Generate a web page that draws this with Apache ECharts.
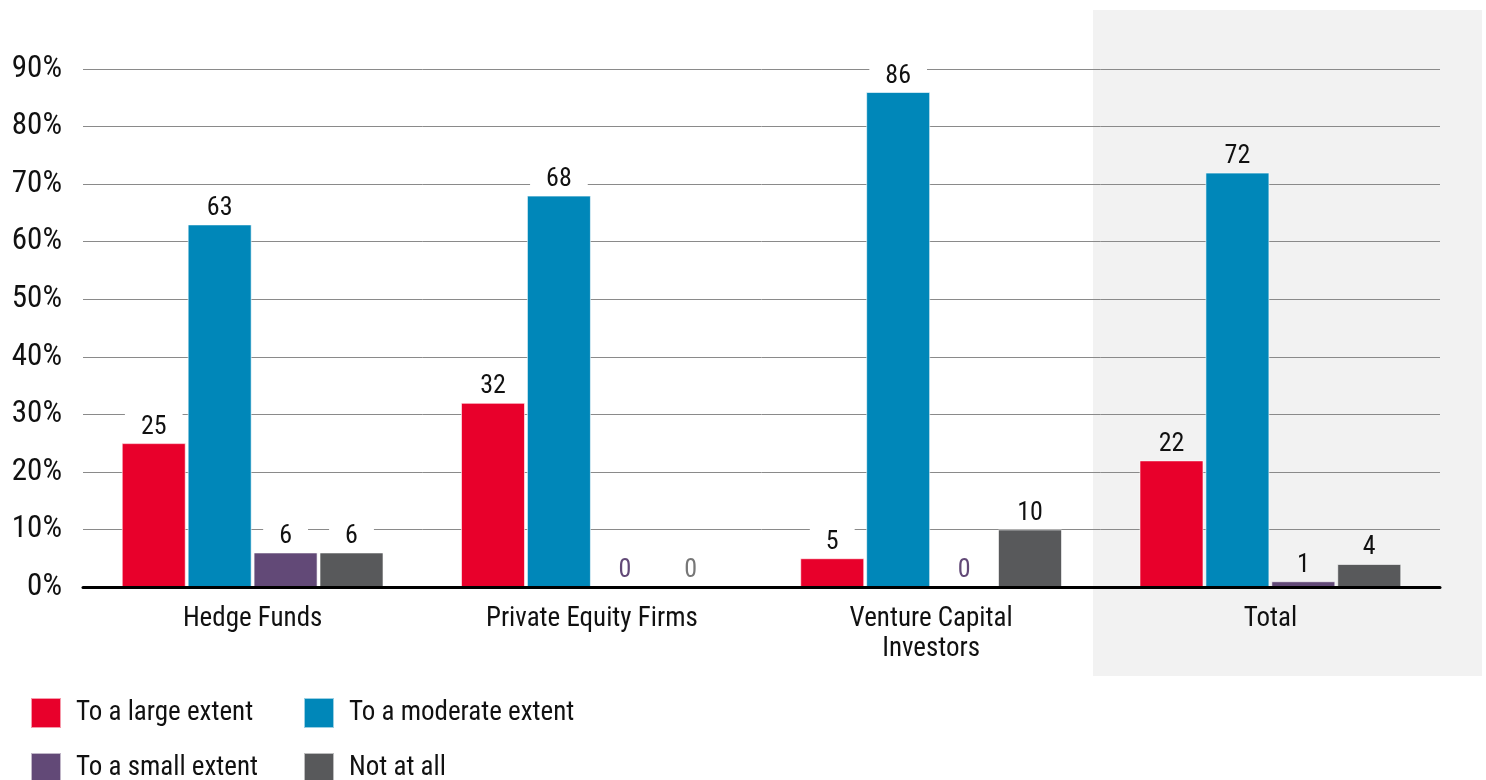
<!DOCTYPE html>
<html>
<head>
<meta charset="utf-8">
<script src="https://cdn.jsdelivr.net/npm/echarts@6/dist/echarts.min.js"></script>
<style>html,body{margin:0;padding:0;background:#fff}#c{width:1486px;height:780px}</style>
</head>
<body>
<div id="c"></div>
<script>
const categories = ['Hedge Funds', 'Private Equity Firms', 'Venture Capital\nInvestors', 'Total'];
const seriesNames = ['To a large extent', 'To a moderate extent', 'To a small extent', 'Not at all'];
const largeExtent = [25, 32, 5, 22];
const moderateExtent = [63, 68, 86, 72];
const smallExtent = [6, 0, 0, 1];
const notAtAll = [6, 0, 10, 4];
const yTicks = [0, 10, 20, 30, 40, 50, 60, 70, 80, 90];

const colors = ['#e8002b', '#0087b9', '#624977', '#58595b'];
const zeroColors = ['#e8002b', '#0087b9', '#624977', '#777777'];
const FONT = '"Roboto Condensed", "Liberation Sans Narrow", "DejaVu Sans Condensed", Roboto, sans-serif';

const chart = echarts.init(document.getElementById('c'));

function mk(name, vals, idx) {
  return {
    name: name,
    type: 'bar',
    barWidth: 64,
    barGap: '3%',
    itemStyle: { color: colors[idx], borderColor: 'rgba(255,255,255,0.6)', borderWidth: 1 },
    data: vals.map((v, i) => ({
      value: v,
      label: {
        color: v === 0 ? zeroColors[idx] : '#111',
        backgroundColor: i === 3 ? '#f2f2f2' : '#ffffff'
      }
    })),
    label: {
      show: true,
      position: 'top',
      distance: 1,
      fontFamily: FONT,
      fontSize: 26,
      padding: [2, 16],
      color: '#111'
    },
    z: 3
  };
}

function legendItem(name, left, top) {
  return {
    data: [name],
    left: left, top: top, padding: 0,
    itemWidth: 30, itemHeight: 30,
    icon: 'rect',
    textStyle: { fontFamily: FONT, fontSize: 27, color: '#111', padding: [0, 0, 0, 10] }
  };
}

const option = {
  animation: false,
  backgroundColor: '#ffffff',
  textStyle: { fontFamily: FONT },
  graphic: [{
    type: 'rect',
    shape: { x: 1093, y: 10, width: 389, height: 666 },
    style: { fill: '#f2f2f2' },
    z: -10, silent: true
  }],
  grid: { left: 83, right: 46, top: 69, bottom: 193, containLabel: false },
  legend: [
    legendItem(seriesNames[0], 30, 697),
    legendItem(seriesNames[1], 303, 697),
    legendItem(seriesNames[2], 30, 752),
    legendItem(seriesNames[3], 303, 752)
  ],
  xAxis: {
    type: 'category',
    data: categories,
    axisLine: { show: true, lineStyle: { color: '#000', width: 3 } },
    axisTick: { show: false },
    axisLabel: { fontFamily: FONT, fontSize: 27, color: '#111', margin: 17, lineHeight: 30 },
    z: 5
  },
  yAxis: {
    type: 'value',
    min: 0, max: 90, interval: 10,
    axisLine: { show: false },
    axisTick: { show: false },
    splitLine: { lineStyle: { color: '#8a8a8a', width: 1 } },
    axisLabel: {
      fontFamily: FONT, fontSize: 31, color: '#111', margin: 21,
      formatter: v => yTicks.includes(v) ? v + '%' : ''
    }
  },
  series: [
    mk(seriesNames[0], largeExtent, 0),
    mk(seriesNames[1], moderateExtent, 1),
    mk(seriesNames[2], smallExtent, 2),
    mk(seriesNames[3], notAtAll, 3)
  ]
};
chart.setOption(option);
</script>
</body>
</html>
